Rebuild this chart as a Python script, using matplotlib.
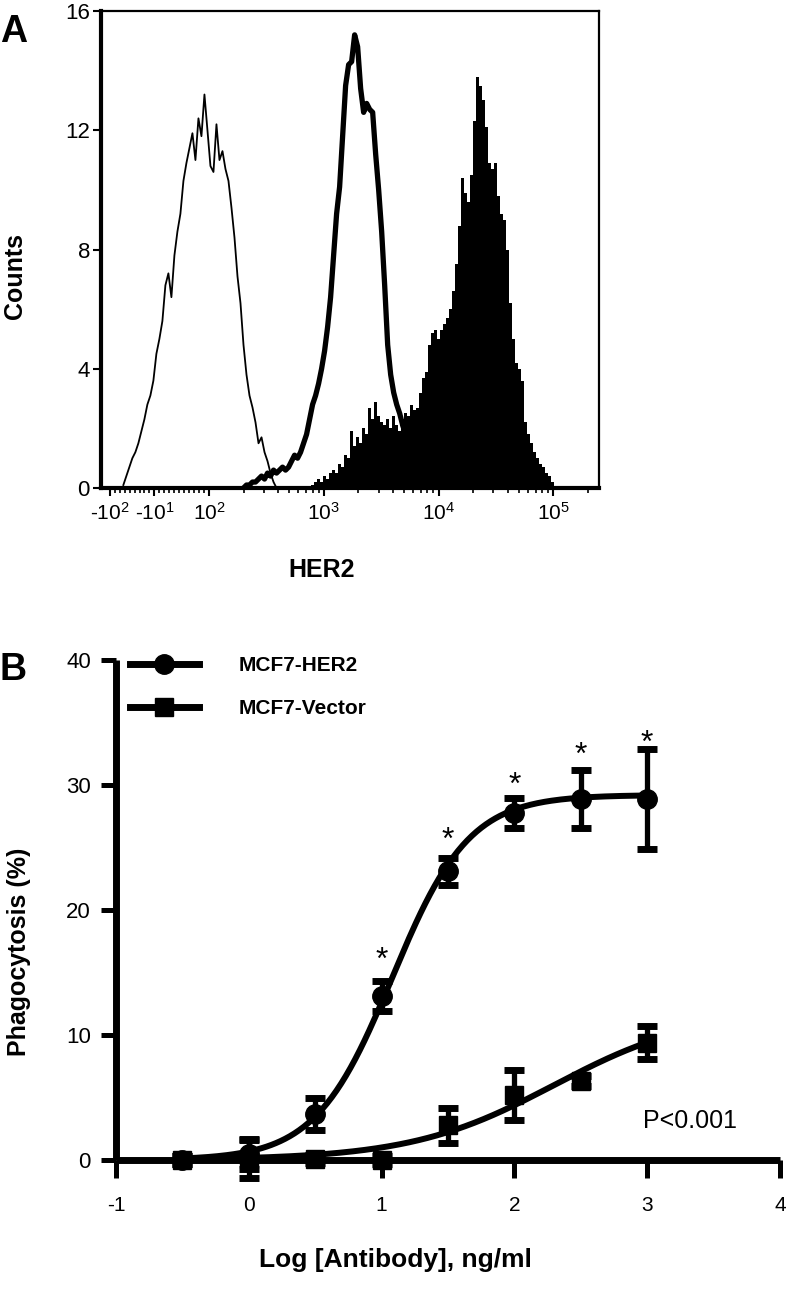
import numpy as np
import matplotlib.pyplot as plt
from matplotlib.lines import Line2D

plt.rcParams['font.family'] = ['Liberation Sans', 'DejaVu Sans']
plt.rcParams['mathtext.fontset'] = 'custom'
plt.rcParams['mathtext.rm'] = 'Liberation Sans'
plt.rcParams['mathtext.it'] = 'Liberation Sans:italic'
plt.rcParams['mathtext.bf'] = 'Liberation Sans:bold'
plt.rcParams['axes.unicode_minus'] = False

# panel A: HER2 flow histograms, counts per display channel (channel 0 = zero intensity)
CH_PER_DECADE = 38.2
iso_start = -12
iso_counts = [0.1, 0.4, 0.7, 1.0, 1.2, 1.5, 1.9, 2.3, 2.8, 3.1,
              3.6, 4.5, 5.0, 5.6, 6.8, 7.2, 6.4, 7.8, 8.6, 9.2,
              10.3, 10.9, 11.4, 11.9, 11.0, 12.4, 11.8, 13.2, 12.0, 10.8,
              10.6, 12.2, 11.0, 11.3, 10.7, 10.3, 9.4, 8.4, 7.1, 6.2,
              4.8, 3.8, 3.1, 2.7, 2.2, 1.5, 1.7, 1.2, 0.9, 0.5,
              0.2, 0.0]
vec_start = 28
vec_counts = [0.0, 0.1, 0.1, 0.2, 0.2, 0.3, 0.4, 0.3, 0.5, 0.4,
              0.6, 0.5, 0.6, 0.7, 0.6, 0.7, 0.9, 1.1, 1.0, 1.2,
              1.5, 1.8, 2.3, 2.8, 3.1, 3.5, 4.0, 4.6, 5.4, 6.4,
              7.8, 9.2, 10.1, 11.8, 13.5, 14.2, 14.3, 15.2, 14.8, 13.4,
              12.6, 12.9, 12.7, 12.6, 11.2, 10.0, 8.6, 6.8, 4.8, 3.8,
              3.2, 2.8, 2.5, 2.1, 1.8, 1.5, 1.2, 1.0, 0.8, 0.6,
              0.4, 0.2, 0.0]
her2_start = 50
her2_counts = [0.0, 0.1, 0.2, 0.3, 0.2, 0.4, 0.3, 0.5, 0.6, 0.5,
               0.8, 0.7, 1.1, 1.0, 1.9, 1.4, 1.7, 1.5, 2.0, 1.8,
               2.7, 2.3, 2.9, 2.4, 2.2, 2.1, 2.3, 2.0, 2.4, 2.1,
               1.9, 2.3, 2.5, 2.4, 2.8, 2.6, 2.7, 3.2, 3.7, 3.9,
               4.8, 5.2, 5.3, 5.0, 5.3, 5.5, 5.7, 6.0, 6.6, 7.5,
               8.8, 10.4, 9.9, 9.6, 10.5, 12.3, 13.8, 13.5, 13.0, 12.1,
               10.9, 10.7, 10.9, 9.8, 9.2, 9.0, 8.0, 6.2, 5.0, 4.2,
               4.0, 3.6, 2.2, 1.8, 1.5, 1.2, 1.0, 0.8, 0.7, 0.5,
               0.4, 0.2, 0.0]
x_ticks_A = [-100, -10, 100, 1e3, 1e4, 1e5]
x_ticklabels_A = ['-$10^{2}$', '-$10^{1}$', '$10^{2}$', '$10^{3}$', '$10^{4}$', '$10^{5}$']
x_minor_A = ([-90, -80, -70, -60, -50, -40, -30, -20, 0, 10, 20, 30, 40, 50, 60, 70, 80, 90]
             + [m * 10.0**d for d in (2, 3, 4) for m in range(2, 10)] + [2e5])

# panel B: phagocytosis vs antibody dose
log_ab = [-0.5, 0, 0.5, 1, 1.5, 2, 2.5, 3]
her2_mean = [0.0, 0.5, 3.7, 13.1, 23.1, 27.8, 28.9, 28.9]
her2_err = [0.3, 1.2, 1.3, 1.2, 1.1, 1.2, 2.3, 4.0]
vec_mean = [0.0, 0.1, 0.1, 0.0, 2.8, 5.2, 6.3, 9.4]
vec_err = [0.3, 1.5, 0.3, 0.3, 1.4, 2.0, 0.4, 1.3]
star_x = [1, 1.5, 2, 2.5, 3]
star_y = [16.6, 26.2, 30.6, 33.0, 34.0]
# fitted sigmoidal dose-response: bottom, top, logEC50, hill slope
her2_fit = (0.0, 29.2, 1.08, 1.5)
vec_fit = (0.0, 12.0, 2.3, 0.8)


def dose_response(x, bottom, top, logec50, hill):
    return bottom + (top - bottom) / (1 + 10 ** ((logec50 - x) * hill))


W, H = 786, 1302
fig = plt.figure(figsize=(W / 100, H / 100), dpi=100)

# ---------------- panel A ----------------
axA = fig.add_axes([101 / W, 1 - 488 / H, 498 / W, 477 / H])
axA.set_xscale('symlog', linthresh=100, linscale=0.39)
to_her2 = axA.xaxis.get_transform().inverted()


def channel_x(start, counts):
    ch = start + np.arange(len(counts))
    return to_her2.transform(ch * 100 / CH_PER_DECADE)


axA.fill_between(channel_x(her2_start, her2_counts), her2_counts, step='mid',
                 color='black', lw=0, zorder=2)
axA.plot(channel_x(vec_start, vec_counts), vec_counts, color='black', lw=3.8,
         solid_joinstyle='round', solid_capstyle='round', zorder=3)
axA.plot(channel_x(iso_start, iso_counts), iso_counts, color='black', lw=1.3, zorder=3)

axA.set_xlim(-119, 2.5e5)
axA.set_ylim(0, 16)
axA.set_yticks([0, 4, 8, 12, 16])
axA.set_xticks(x_ticks_A)
axA.set_xticklabels(x_ticklabels_A)
axA.set_xticks(x_minor_A, minor=True)
axA.tick_params(axis='y', direction='out', length=6, width=1.5, labelsize=16, pad=2)
axA.tick_params(axis='x', which='major', direction='out', length=6, width=1.5, labelsize=15, pad=4)
axA.tick_params(axis='x', which='minor', direction='out', length=3.5, width=1.2)
for s in ['left', 'bottom']:
    axA.spines[s].set_linewidth(3)
for s in ['top', 'right']:
    axA.spines[s].set_linewidth(1.6)

fig.text(14 / W, 1 - 42 / H, 'A', fontsize=27, fontweight='bold', ha='center', va='baseline')
fig.text(22 / W, 1 - 276 / H, 'Counts', fontsize=18, fontweight='bold', rotation=90,
         rotation_mode='anchor', ha='center', va='baseline')
fig.text(322 / W, 1 - 577 / H, 'HER2', fontsize=18, fontweight='bold', ha='center', va='baseline')

# ---------------- panel B ----------------
axB = fig.add_axes([116 / W, 1 - 1160 / H, 664 / W, 500 / H])
xs = np.linspace(-0.5, 3, 200)
axB.plot(xs, dose_response(xs, *her2_fit), color='black', lw=4.3, zorder=3)
axB.plot(xs, dose_response(xs, *vec_fit), color='black', lw=4.3, zorder=3)
axB.errorbar(log_ab, her2_mean, yerr=her2_err, fmt='o', color='black', ms=14,
             elinewidth=3.8, capsize=7, capthick=5, clip_on=False, zorder=4)
axB.errorbar(log_ab, vec_mean, yerr=vec_err, fmt='s', color='black', ms=13,
             elinewidth=3.8, capsize=7, capthick=5, clip_on=False, zorder=4)
for sx, sy in zip(star_x, star_y):
    axB.annotate('*', (sx, sy), xytext=(0, -12), textcoords='offset points',
                 ha='center', va='baseline', fontsize=23)
axB.text(3.32, 2.56, 'P<0.001', fontsize=18, ha='center', va='baseline')

axB.set_xlim(-1, 4)
axB.set_ylim(0, 40)
axB.set_xticks([-1, 0, 1, 2, 3, 4])
axB.set_yticks([0, 10, 20, 30, 40])
axB.spines['top'].set_visible(False)
axB.spines['right'].set_visible(False)
for s in ['left', 'bottom']:
    axB.spines[s].set_linewidth(5)
    axB.spines[s].set_capstyle('butt')
axB.tick_params(axis='x', direction='out', length=13, width=3.6, labelsize=15, pad=13)
axB.tick_params(axis='y', direction='out', length=11, width=3.6, labelsize=16, pad=7)

handles = [Line2D([], [], color='black', lw=5, marker='o', ms=14),
           Line2D([], [], color='black', lw=5, marker='s', ms=13)]
fig.legend(handles, ['MCF7-HER2', 'MCF7-Vector'], loc='upper left',
           bbox_to_anchor=(130 / W, 1 - 656 / H), bbox_transform=fig.transFigure,
           frameon=False, borderpad=0, borderaxespad=0, handlelength=3.3,
           handletextpad=1.9, labelspacing=1.15, prop={'weight': 'bold', 'size': 15})

fig.text(13 / W, 1 - 680 / H, 'B', fontsize=27, fontweight='bold', ha='center', va='baseline')
fig.text(26 / W, 1 - 952 / H, 'Phagocytosis (%)', fontsize=18, fontweight='bold', rotation=90,
         rotation_mode='anchor', ha='center', va='baseline')
fig.text(395 / W, 1 - 1267 / H, 'Log [Antibody], ng/ml', fontsize=19, fontweight='bold',
         ha='center', va='baseline')

fig.savefig('out.png', dpi=100)
